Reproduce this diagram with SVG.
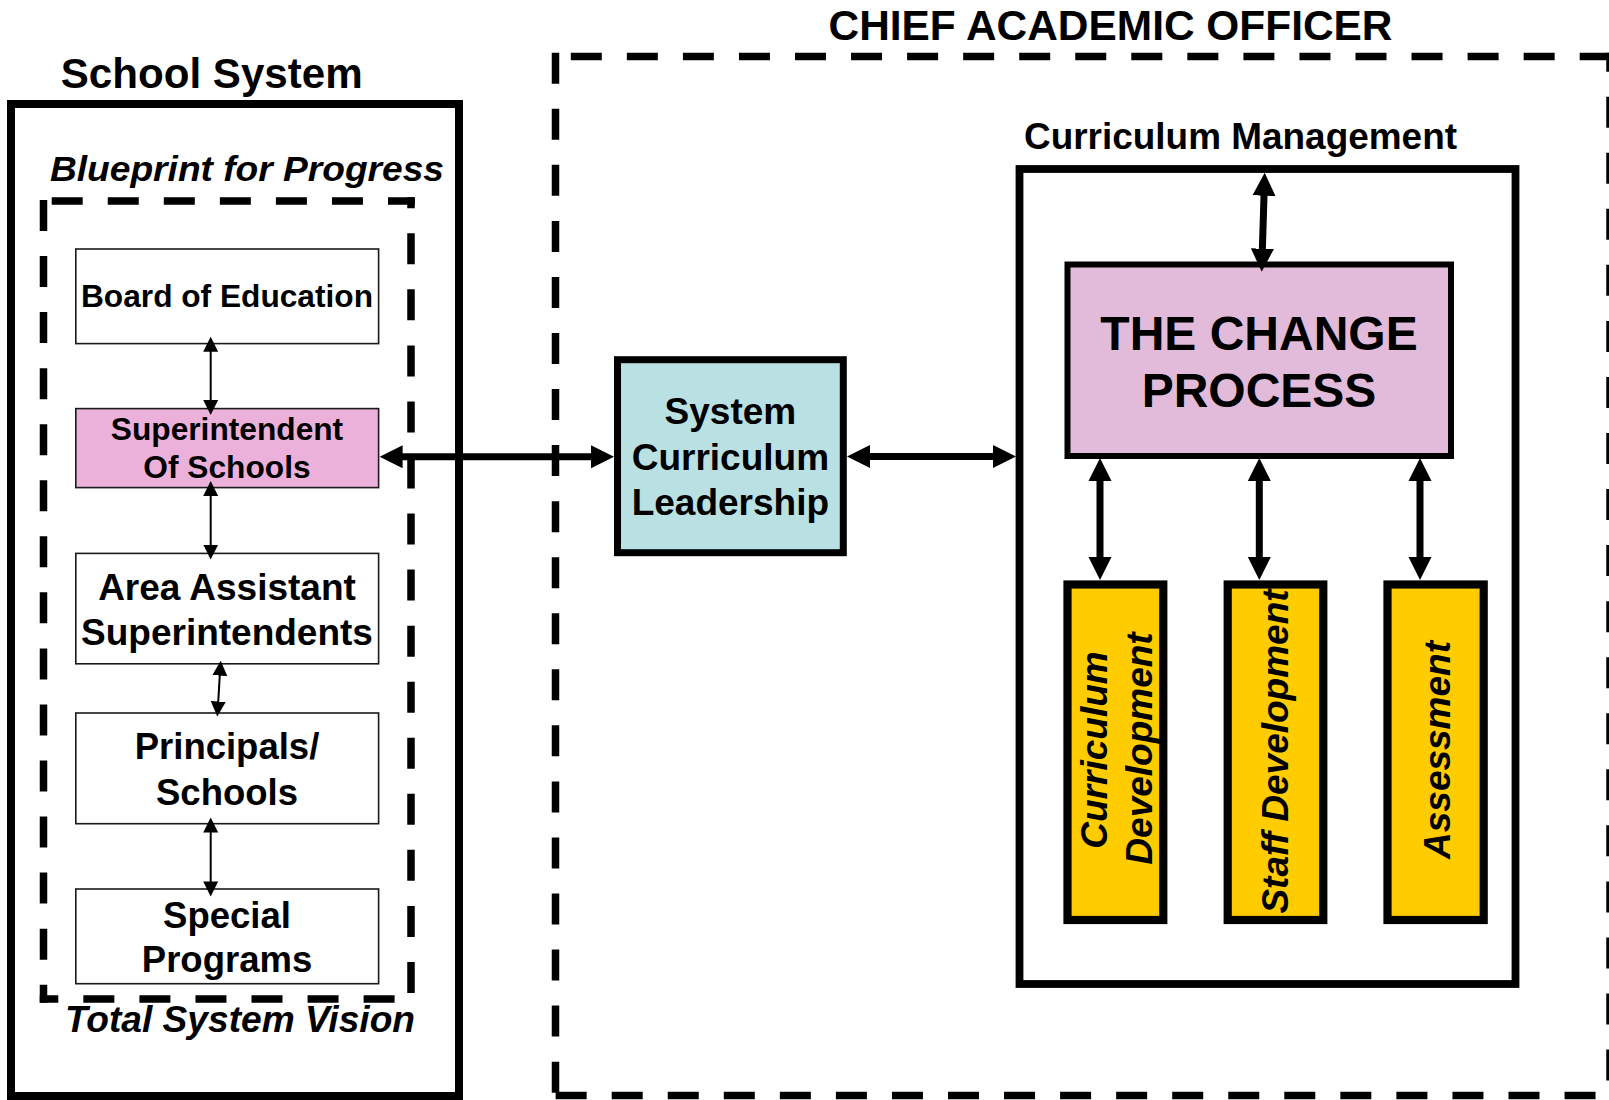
<svg xmlns="http://www.w3.org/2000/svg" width="1609" height="1100" viewBox="0 0 1609 1100">
<style>
text{font-family:"Liberation Sans",Arial,Helvetica,sans-serif;font-weight:bold;fill:#000}
.it{font-style:italic}
.mid{text-anchor:middle}
.dash{fill:none;stroke:#000;stroke-width:7.5;stroke-linecap:square;stroke-dasharray:23.5 32.55}
.solid{fill:none;stroke:#000;stroke-width:8}
.thin{stroke:#1a1a1a;stroke-width:1.6}
.big{stroke:#000;stroke-width:7;fill:none}
.small{stroke:#000;stroke-width:2;fill:none}
</style>
<defs>
<marker id="ah" markerUnits="userSpaceOnUse" markerWidth="24" markerHeight="24" refX="1" refY="11.5" orient="auto-start-reverse" viewBox="0 0 24 23"><path d="M0,0 L23,11.5 L0,23 z" fill="#000"/></marker>
<marker id="as" markerUnits="userSpaceOnUse" markerWidth="16" markerHeight="16" refX="1" refY="7.5" orient="auto-start-reverse" viewBox="0 0 16 15"><path d="M0,0 L15,7.5 L0,15 z" fill="#000"/></marker>
</defs>
<rect width="1609" height="1100" fill="#fff"/>

<g id="chief-academic-officer">
<line class="dash" x1="555.5" y1="56.5" x2="1610" y2="56.5" stroke-dashoffset="-19.05"/>
<line class="dash" x1="555.5" y1="56.5" x2="555.5" y2="1095.5" stroke-dashoffset="0"/>
<line class="dash" x1="555.5" y1="1095.5" x2="1610" y2="1095.5" stroke-dashoffset="-3.9"/>
<line class="dash" x1="1610" y1="56.5" x2="1610" y2="1095.5" stroke-dashoffset="-43.95"/>
<text x="828.5" y="40" font-size="42.5" textLength="564" lengthAdjust="spacingAndGlyphs">CHIEF ACADEMIC OFFICER</text>
</g>

<g id="school-system">
<rect class="solid" x="11" y="104" width="448" height="992"/>
<text x="60.7" y="88.3" font-size="42.5" textLength="302" lengthAdjust="spacingAndGlyphs">School System</text>
</g>

<g id="blueprint">
<line class="dash" x1="43.5" y1="201" x2="411" y2="201" stroke-dashoffset="-11.95"/>
<line class="dash" x1="43.5" y1="201" x2="43.5" y2="999" stroke-dashoffset="-2.75"/>
<line class="dash" x1="43.5" y1="999" x2="411" y2="999" stroke-dashoffset="12.45"/>
<line class="dash" x1="411" y1="201" x2="411" y2="999" stroke-dashoffset="-36.05"/>
<text class="it" x="50" y="180.7" font-size="35.5" textLength="394" lengthAdjust="spacingAndGlyphs">Blueprint for Progress</text>
<text class="it" x="65" y="1031.7" font-size="36" textLength="350" lengthAdjust="spacingAndGlyphs">Total System Vision</text>
</g>

<g id="board-of-education">
<rect class="thin" x="75.8" y="249" width="302.8" height="94.6" fill="#fff"/>
<text class="mid" x="227" y="306.7" font-size="31.5" textLength="292" lengthAdjust="spacingAndGlyphs">Board of Education</text>
</g>

<g id="superintendent">
<rect class="thin" x="75.8" y="408.6" width="302.8" height="79" fill="#ECB1DA"/>
<text class="mid" x="227" y="440" font-size="31.7">Superintendent</text>
<text class="mid" x="227" y="478" font-size="31.7">Of Schools</text>
</g>

<g id="area-assistant">
<rect class="thin" x="75.8" y="553.4" width="302.8" height="110.4" fill="#fff"/>
<text class="mid" x="227" y="600" font-size="37">Area Assistant</text>
<text class="mid" x="227" y="644.6" font-size="37">Superintendents</text>
</g>

<g id="principals">
<rect class="thin" x="75.8" y="713" width="302.8" height="110.7" fill="#fff"/>
<text class="mid" x="227" y="759.4" font-size="36.5">Principals/</text>
<text class="mid" x="227" y="804.5" font-size="36.5">Schools</text>
</g>

<g id="special-programs">
<rect class="thin" x="75.8" y="889" width="302.8" height="94.7" fill="#fff"/>
<text class="mid" x="227" y="927.8" font-size="36.5">Special</text>
<text class="mid" x="227" y="971.8" font-size="36.5">Programs</text>
</g>

<g id="system-curriculum-leadership">
<rect x="617.5" y="359.7" width="225.8" height="193" fill="#B9E0E3" stroke="#000" stroke-width="7"/>
<text class="mid" x="730.4" y="423.5" font-size="37">System</text>
<text class="mid" x="730.4" y="469.5" font-size="37">Curriculum</text>
<text class="mid" x="730.4" y="514.5" font-size="37">Leadership</text>
</g>

<g id="curriculum-management">
<rect x="1019.5" y="169" width="496" height="815" fill="#fff" stroke="#000" stroke-width="7.8"/>
<text x="1024" y="148.5" font-size="37" textLength="433" lengthAdjust="spacingAndGlyphs">Curriculum Management</text>
</g>

<g id="change-process">
<rect x="1067.5" y="264.5" width="383.5" height="191.5" fill="#E2BBDA" stroke="#000" stroke-width="6"/>
<text class="mid" x="1259" y="350" font-size="48">THE CHANGE</text>
<text class="mid" x="1259" y="406.7" font-size="48">PROCESS</text>
</g>

<g id="curriculum-development">
<rect x="1067.5" y="584.5" width="95.8" height="335.5" fill="#FFCC00" stroke="#000" stroke-width="8.2"/>
<text class="it mid" transform="translate(1107 750) rotate(-90)" font-size="37">Curriculum</text>
<text class="it mid" transform="translate(1151.5 748.5) rotate(-90)" font-size="37">Development</text>
</g>

<g id="staff-development">
<rect x="1227.7" y="584.5" width="95.6" height="335.5" fill="#FFCC00" stroke="#000" stroke-width="8.2"/>
<text class="it mid" transform="translate(1288.3 751.5) rotate(-90)" font-size="37">Staff Development</text>
</g>

<g id="assessment">
<rect x="1387.5" y="584.5" width="96.2" height="335.5" fill="#FFCC00" stroke="#000" stroke-width="8.2"/>
<text class="it mid" transform="translate(1450 750) rotate(-90)" font-size="37">Assessment</text>
</g>

<g id="connectors">
<line class="small" x1="210.7" y1="350.7" x2="210.7" y2="401" marker-start="url(#as)" marker-end="url(#as)"/>
<line class="small" x1="210.7" y1="495" x2="210.7" y2="545.6" marker-start="url(#as)" marker-end="url(#as)"/>
<line class="small" x1="219.85" y1="674.6" x2="218.15" y2="702.5" marker-start="url(#as)" marker-end="url(#as)"/>
<line class="small" x1="210.7" y1="831.5" x2="210.7" y2="882.4" marker-start="url(#as)" marker-end="url(#as)"/>
<line class="big" x1="401.6" y1="456.7" x2="592" y2="456.7" marker-start="url(#ah)" marker-end="url(#ah)"/>
<line class="big" x1="869" y1="456.5" x2="994" y2="456.5" marker-start="url(#ah)" marker-end="url(#ah)"/>
<line class="big" x1="1264.03" y1="194.7" x2="1262.37" y2="249.7" marker-start="url(#ah)" marker-end="url(#ah)"/>
<line class="big" x1="1100" y1="480" x2="1100" y2="558" marker-start="url(#ah)" marker-end="url(#ah)"/>
<line class="big" x1="1259.3" y1="480" x2="1259.3" y2="558" marker-start="url(#ah)" marker-end="url(#ah)"/>
<line class="big" x1="1420" y1="480" x2="1420" y2="558" marker-start="url(#ah)" marker-end="url(#ah)"/>
</g>
</svg>
